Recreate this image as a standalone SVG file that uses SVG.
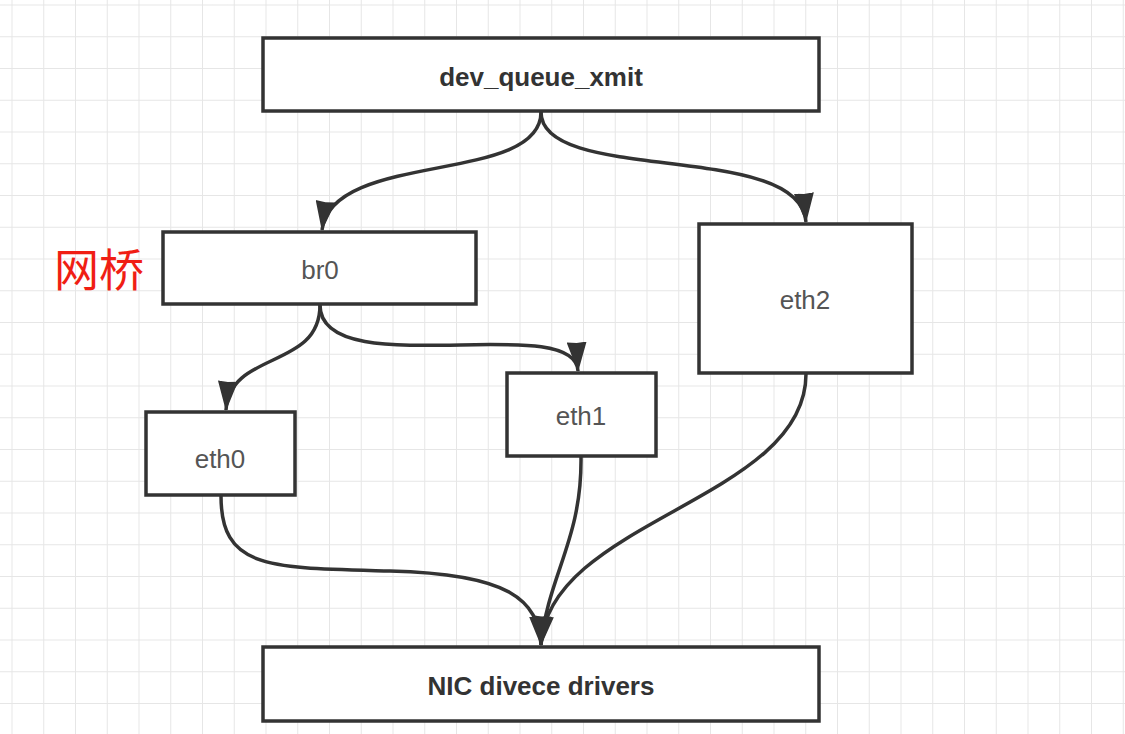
<svg xmlns="http://www.w3.org/2000/svg" width="1125" height="734" viewBox="0 0 1125 734">
<style>
.box{fill:#fff;stroke:#333;stroke-width:3.5}
.bold{font-family:"Liberation Sans",Arial,sans-serif;font-size:26px;font-weight:bold;fill:#333;text-anchor:middle}
.reg{font-family:"Liberation Sans",Arial,sans-serif;font-size:26px;fill:#555;text-anchor:middle}
.edge{fill:none;stroke:#333;stroke-width:3.5}
</style>
<defs>
<pattern id="grid" patternUnits="userSpaceOnUse" x="11.5" y="4.5" width="31.75" height="31.75">
<path d="M0 0V31.75M0 0H31.75" fill="none" stroke="#e6e6e6" stroke-width="2"/>
</pattern>
<marker id="arr" markerUnits="userSpaceOnUse" viewBox="0 0 30 20" refX="29" refY="10" markerWidth="30" markerHeight="20" orient="auto">
<path d="M0,0 L30,10 L0,20 L1,10 z" fill="#333"/>
</marker>
</defs>
<rect width="1125" height="734" fill="#fff"/>
<rect width="1125" height="734" fill="url(#grid)"/>
<g id="connectors">
<path class="edge" d="M541 112 C541 185, 332 150, 322 230" marker-end="url(#arr)"/>
<path class="edge" d="M541 112 C541 185, 800 140, 806 222" marker-end="url(#arr)"/>
<path class="edge" d="M320 305 C320 370, 230 350, 226 410" marker-end="url(#arr)"/>
<path class="edge" d="M320 305 C320 385, 575 310, 578 371" marker-end="url(#arr)"/>
<path class="edge" d="M221 496 C221 570, 270 568, 390 571 C510 574, 538 600, 541 645" marker-end="url(#arr)"/>
<path class="edge" d="M581 457 C582 540, 548 575, 541 645" marker-end="url(#arr)"/>
<path class="edge" d="M806 374 C806 500, 548 520, 541 645" marker-end="url(#arr)"/>
</g>
<g id="dev_queue_xmit">
<rect class="box" x="263" y="38" width="556" height="73"/>
<text class="bold" x="541" y="86">dev_queue_xmit</text>
</g>
<g id="br0">
<rect class="box" x="163" y="232" width="313" height="72"/>
<text class="reg" x="320" y="279">br0</text>
</g>
<g id="label_bridge">
<text x="99" y="287" font-family="'Noto Sans CJK SC',sans-serif" font-size="45" fill="#f01e14" text-anchor="middle">网桥</text>
</g>
<g id="eth2">
<rect class="box" x="699" y="224" width="213" height="149"/>
<text class="reg" x="805" y="309">eth2</text>
</g>
<g id="eth0">
<rect class="box" x="146" y="412" width="149" height="83"/>
<text class="reg" x="220" y="468">eth0</text>
</g>
<g id="eth1">
<rect class="box" x="507" y="373" width="149" height="83"/>
<text class="reg" x="581" y="425">eth1</text>
</g>
<g id="nic">
<rect class="box" x="263" y="647" width="556" height="74"/>
<text class="bold" x="541" y="695">NIC divece drivers</text>
</g>
</svg>
